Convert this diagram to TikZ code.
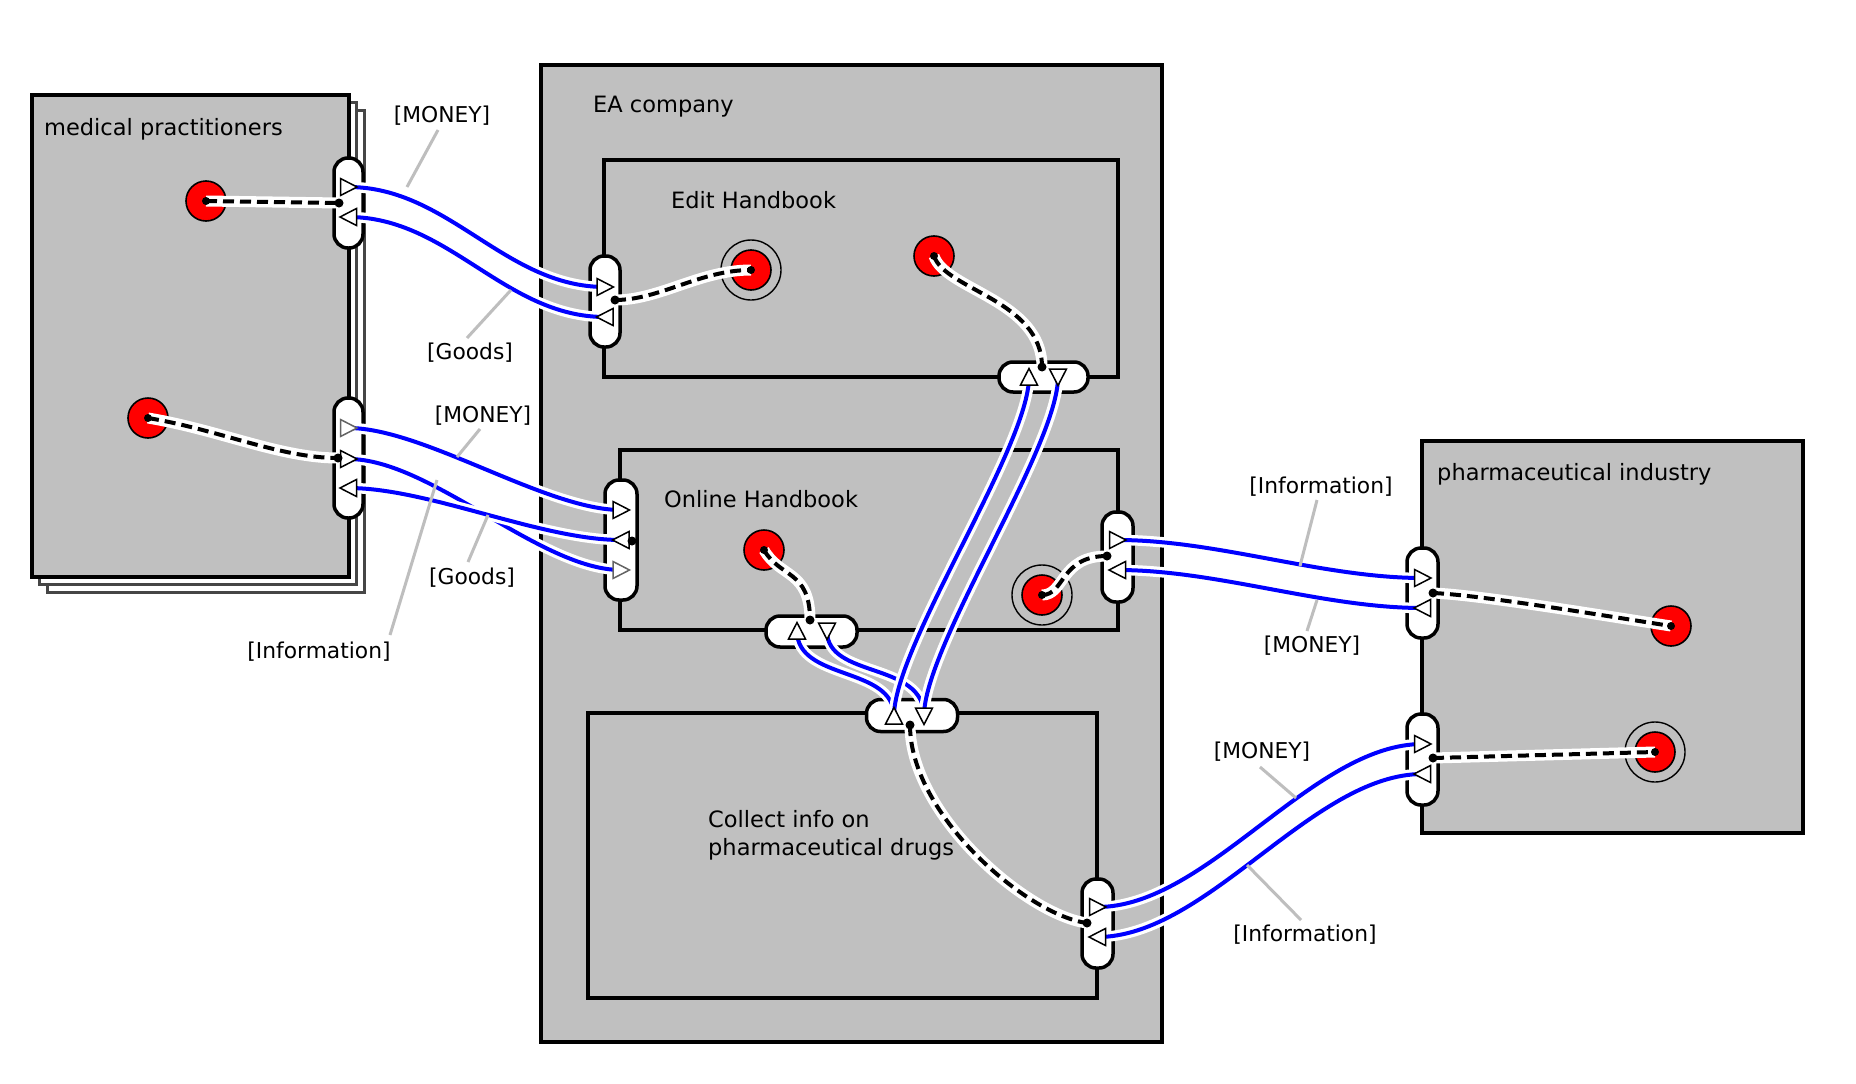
\documentclass[tikz,border=0pt]{standalone}
\usepackage{fontspec}
\setmainfont{DejaVu Sans}
\definecolor{boxgrey}{RGB}{192,192,192}
\definecolor{flowblue}{RGB}{0,0,255}
\definecolor{leadgrey}{RGB}{190,190,190}
\definecolor{shadowgrey}{RGB}{70,70,70}
\definecolor{trigrey}{RGB}{100,100,100}
\newcommand\flowtri[3][black]{\draw[line width=1.5pt, draw=#1, fill=white, shift={(#2)}, rotate=#3] (8.5,0) -- (-8,8.5) -- (-8,-8.5) -- cycle;}
\newcommand\jdot[1]{\fill[black] (#1) circle[radius=4.5pt];}
\newcommand\centdot[1]{\fill[black] (#1) circle[radius=4pt];}
\begin{document}
\begin{tikzpicture}[x=1pt,y=-1pt,
  boxbase/.style={rectangle, anchor=north west, inner sep=0pt, outer sep=0pt, line width=3.5pt},
  box/.style={boxbase, draw=black, fill=boxgrey},
  shadowbox/.style={boxbase, draw=shadowgrey, fill=white, line width=3pt},
  port/.style={rectangle, draw=black, line width=3.5pt, fill=white, rounded corners=14pt, inner sep=0pt, outer sep=0pt},
  reddot/.style={circle, draw=black, line width=1.6pt, fill=red, minimum size=40pt, inner sep=0pt},
  ring/.style={draw=black, line width=1.4pt},
  flow/.style={draw=flowblue, line width=4pt, preaction={draw=white, line width=10.5pt}},
  assoc/.style={draw=black, line width=4pt, dash pattern=on 11pt off 6pt, preaction={draw=white, solid, line width=11pt}},
  leader/.style={draw=leadgrey, line width=3pt},
  title/.style={font=\fontsize{22.5}{28}\selectfont, inner sep=0pt, anchor=base west},
  lab/.style={font=\fontsize{21.8}{26}\selectfont, inner sep=0pt},
]
\useasboundingbox[fill=white] (0,0) rectangle (1856,1084);

% ---------- boxes ----------
\node[shadowbox, minimum width=317pt, minimum height=482pt] (medsh2) at (47,110) {};
\node[shadowbox, minimum width=317pt, minimum height=482pt] (medsh1) at (39.5,102.5) {};
\node[box, minimum width=317pt, minimum height=482pt] (med) at (32,95) {};
\node[box, minimum width=621pt, minimum height=977pt] (ea) at (541,65) {};
\node[box, minimum width=514pt, minimum height=217pt] (edit) at (604,160) {};
\node[box, minimum width=498pt, minimum height=180pt] (online) at (620,450) {};
\node[box, minimum width=509pt, minimum height=285pt] (collect) at (588,713) {};
\node[box, minimum width=381pt, minimum height=392pt] (pharma) at (1422,441) {};

\node[title] (medt) at (44,135) {medical practitioners};
\node[title] (eat) at (593,112) {EA company};
\node[title] (editt) at (671,208) {Edit Handbook};
\node[title] (onlinet) at (664,507) {Online Handbook};
\node[title, anchor=north west, align=left] (collectt) at (708,810) {Collect info on\\pharmaceutical drugs};
\node[title] (pharmat) at (1437,480) {pharmaceutical industry};

% ---------- circles ----------
\node[reddot] (mc1) at (206,201) {};
\node[reddot] (mc2) at (148,418) {};
\node[reddot] (ec1) at (751,270) {};
\draw[ring] (ec1) circle[radius=30pt];
\node[reddot] (ec2) at (934,256) {};
\node[reddot] (oc1) at (764,550) {};
\node[reddot] (oc2) at (1042,595) {};
\draw[ring] (oc2) circle[radius=30pt];
\node[reddot] (pc1) at (1671,626) {};
\node[reddot] (pc2) at (1655,752) {};
\draw[ring] (pc2) circle[radius=30pt];

% ---------- ports ----------
\node[port, minimum width=29pt, minimum height=90pt] (mp1) at (348.5,203) {};
\node[port, minimum width=29pt, minimum height=120pt] (mp2) at (348.5,458) {};
\node[port, minimum width=30pt, minimum height=91pt] (ep1) at (605,301.5) {};
\node[port, minimum width=89pt, minimum height=30pt] (ep2) at (1043.5,377) {};
\node[port, minimum width=32pt, minimum height=120pt] (op1) at (621,540) {};
\node[port, minimum width=91pt, minimum height=31pt] (op2) at (811.5,631.5) {};
\node[port, minimum width=31pt, minimum height=90pt] (op3) at (1117.5,557) {};
\node[port, minimum width=91pt, minimum height=32pt] (cp1) at (912,715.5) {};
\node[port, minimum width=31pt, minimum height=89pt] (cp2) at (1097.5,923.5) {};
\node[port, minimum width=31pt, minimum height=90pt] (pp1) at (1422.5,593) {};
\node[port, minimum width=31pt, minimum height=91pt] (pp2) at (1422.5,759.5) {};

% ---------- port points ----------
\coordinate (mp1a) at (348.5,187); \coordinate (mp1b) at (348.5,217); \coordinate (mp1d) at (339,203);
\coordinate (mp2a) at (348.5,428); \coordinate (mp2b) at (348.5,459); \coordinate (mp2c) at (348.5,488); \coordinate (mp2d) at (338,458);
\coordinate (ep1a) at (605,287); \coordinate (ep1b) at (605,317); \coordinate (ep1d) at (615,300);
\coordinate (ep2a) at (1029,377); \coordinate (ep2b) at (1058,377); \coordinate (ep2d) at (1042,367);
\coordinate (op1a) at (621,510); \coordinate (op1b) at (621,540); \coordinate (op1c) at (621,570); \coordinate (op1d) at (632,541);
\coordinate (op2a) at (797,631); \coordinate (op2b) at (827,631); \coordinate (op2d) at (810,620);
\coordinate (op3a) at (1117.5,540); \coordinate (op3b) at (1117.5,570); \coordinate (op3d) at (1107,556);
\coordinate (cp1a) at (894,716); \coordinate (cp1b) at (924,716); \coordinate (cp1d) at (910,725);
\coordinate (cp2a) at (1097.5,907); \coordinate (cp2b) at (1097.5,937); \coordinate (cp2d) at (1087,923);
\coordinate (pp1a) at (1422.5,578); \coordinate (pp1b) at (1422.5,608); \coordinate (pp1d) at (1433,593);
\coordinate (pp2a) at (1422.5,744); \coordinate (pp2b) at (1422.5,774); \coordinate (pp2d) at (1433,758);

% ---------- dashed associations ----------
\draw[assoc] (mc1.center) -- (mp1d);
\draw[assoc] (mc2.center) .. controls +(72,12) and +(-58,0) .. (mp2d);
\draw[assoc] (ep1d) .. controls +(45,0) and +(-51,0) .. (ec1.center);
\draw[assoc] (ec2.center) .. controls +(11,34) and +(0,-67) .. (ep2d);
\draw[assoc] (oc1.center) .. controls +(16,28) and +(0,-50) .. (op2d);
\draw[assoc] (oc2.center) .. controls +(23,0) and +(-47,0) .. (op3d);
\draw[assoc] (cp1d) .. controls +(0,90) and +(-60,-8) .. (cp2d);
\draw[assoc] (pp1d) .. controls +(47,2) and +(-71,-11) .. (pc1.center);
\draw[assoc] (pp2d) -- (pc2.center);

% ---------- flows ----------
\draw[flow] (mp1a) .. controls +(100,0) and +(-100,0) .. (ep1a);
\draw[flow] (mp1b) .. controls +(100,0) and +(-100,0) .. (ep1b);
\draw[flow] (mp2a) .. controls +(75,0) and +(-75,0) .. (op1a);
\draw[flow] (mp2b) .. controls +(82,0) and +(-81,0) .. (op1c);
\draw[flow] (mp2c) .. controls +(80,0) and +(-80,0) .. (op1b);
\draw[flow] (op3a) .. controls +(100,0) and +(-100,0) .. (pp1a);
\draw[flow] (op3b) .. controls +(100,0) and +(-100,0) .. (pp1b);
\draw[flow] (cp2a) .. controls +(110,0) and +(-110,0) .. (pp2a);
\draw[flow] (cp2b) .. controls +(110,0) and +(-110,0) .. (pp2b);
\draw[flow] (op2a) .. controls +(0,50) and +(0,-50) .. (cp1a);
\draw[flow] (op2b) .. controls +(0,48) and +(0,-55) .. (cp1b);
\draw[flow] (ep2a) .. controls +(0,70) and +(0,-70) .. (cp1a);
\draw[flow] (ep2b) .. controls +(0,70) and +(0,-70) .. (cp1b);

% ---------- triangles ----------
\flowtri{mp1a}{0} \flowtri{mp1b}{180}
\flowtri[trigrey]{mp2a}{0} \flowtri{mp2b}{0} \flowtri{mp2c}{180}
\flowtri{ep1a}{0} \flowtri{ep1b}{180}
\flowtri{ep2a}{90} \flowtri{ep2b}{270}
\flowtri{op1a}{0} \flowtri{op1b}{180} \flowtri[trigrey]{op1c}{0}
\flowtri{op2a}{90} \flowtri{op2b}{270}
\flowtri{op3a}{0} \flowtri{op3b}{180}
\flowtri{cp1a}{90} \flowtri{cp1b}{270}
\flowtri{cp2a}{0} \flowtri{cp2b}{180}
\flowtri{pp1a}{0} \flowtri{pp1b}{180}
\flowtri{pp2a}{0} \flowtri{pp2b}{180}

% ---------- dots ----------
\jdot{mp1d} \jdot{mp2d} \jdot{ep1d} \jdot{ep2d} \jdot{op1d} \jdot{op2d} \jdot{op3d}
\jdot{cp1d} \jdot{cp2d} \jdot{pp1d} \jdot{pp2d}
\centdot{mc1} \centdot{mc2} \centdot{ec1} \centdot{ec2} \centdot{oc1} \centdot{oc2} \centdot{pc1} \centdot{pc2}

% ---------- labels ----------
\node[lab] (lm1) at (442,116) {[MONEY]};
\node[lab] (lg1) at (470,353) {[Goods]};
\node[lab] (lm2) at (483,416) {[MONEY]};
\node[lab] (lg2) at (472,578) {[Goods]};
\node[lab] (li2) at (319,652) {[Information]};
\node[lab] (li3) at (1321,487) {[Information]};
\node[lab] (lm3) at (1312,646) {[MONEY]};
\node[lab] (lm4) at (1262,752) {[MONEY]};
\node[lab] (li4) at (1305,935) {[Information]};

\coordinate (lm1a) at (438,130); \coordinate (lm1b) at (407,187);
\coordinate (lg1a) at (467,338); \coordinate (lg1b) at (511,290);
\coordinate (lm2a) at (480,429); \coordinate (lm2b) at (457,457);
\coordinate (li2a) at (390,635); \coordinate (li2b) at (437,480);
\coordinate (lg2a) at (468,562); \coordinate (lg2b) at (488,515);
\coordinate (li3a) at (1317,500); \coordinate (li3b) at (1300,566);
\coordinate (lm3a) at (1307,631); \coordinate (lm3b) at (1317,600);
\coordinate (lm4a) at (1260,767); \coordinate (lm4b) at (1296,798);
\coordinate (li4a) at (1301,920); \coordinate (li4b) at (1247,865);
\draw[leader] (lm1a) -- (lm1b);
\draw[leader] (lg1a) -- (lg1b);
\draw[leader] (lm2a) -- (lm2b);
\draw[leader] (li2a) -- (li2b);
\draw[leader] (lg2a) -- (lg2b);
\draw[leader] (li3a) -- (li3b);
\draw[leader] (lm3a) -- (lm3b);
\draw[leader] (lm4a) -- (lm4b);
\draw[leader] (li4a) -- (li4b);
\end{tikzpicture}
\end{document}
